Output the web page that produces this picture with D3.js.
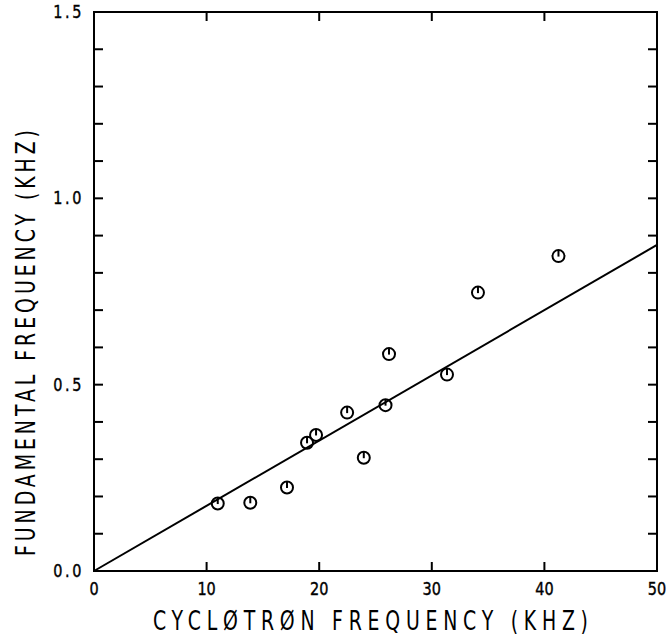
<!DOCTYPE html>
<html><head><meta charset="utf-8">
<script src="https://cdn.jsdelivr.net/npm/d3@7"></script>
<style>body{margin:0;background:#fff}</style>
</head><body>
<svg id="c" width="669" height="639"></svg>
<script>
const cyclotron = [10.99, 13.88, 17.14, 18.92, 19.72, 22.48, 23.96, 25.89, 26.2, 31.35, 34.1, 41.25];
const fundamental = [0.181, 0.183, 0.224, 0.344, 0.365, 0.425, 0.304, 0.445, 0.582, 0.527, 0.747, 0.845];
const fitLine = [[0, 0], [50, 0.875]];
const xTicks = [0, 10, 20, 30, 40, 50];
const yLabels = [0, 0.5, 1.0, 1.5];
const yMinor = [0.1,0.2,0.3,0.4,0.5,0.6,0.7,0.8,0.9,1.0,1.1,1.2,1.3,1.4];
const xTitle = "CYCLØTRØN  FREQUENCY (KHZ)";
const yTitle = "FUNDAMENTAL  FREQUENCY (KHZ)";

const svg = d3.select("#c");
const L = 94, R = 657, T = 12, B = 571;
const x = d3.scaleLinear().domain([0, 50]).range([L, R]);
const y = d3.scaleLinear().domain([0, 1.5]).range([B, T]);
const font = "DejaVu Sans, sans-serif";
const tl = 9;

// frame
svg.append("rect").attr("x", L).attr("y", T).attr("width", R - L).attr("height", B - T)
  .attr("fill", "none").attr("stroke", "#000").attr("stroke-width", 2);

// ticks inward
const g = svg.append("g").attr("stroke", "#000").attr("stroke-width", 2);
yMinor.forEach(v => {
  g.append("line").attr("x1", L).attr("x2", L + tl).attr("y1", y(v)).attr("y2", y(v));
  g.append("line").attr("x1", R).attr("x2", R - tl).attr("y1", y(v)).attr("y2", y(v));
});
xTicks.slice(1, -1).forEach(v => {
  g.append("line").attr("x1", x(v)).attr("x2", x(v)).attr("y1", B).attr("y2", B - tl);
  g.append("line").attr("x1", x(v)).attr("x2", x(v)).attr("y1", T).attr("y2", T + tl);
});

// tick labels
svg.append("g").selectAll("text").data(xTicks).join("text")
  .attr("transform", d => `translate(${x(d)},${B + 24}) scale(0.85,1)`)
  .attr("text-anchor", "middle")
  .attr("font-family", font).attr("font-size", 17)
  .attr("stroke", "#000").attr("stroke-width", 0.4)
  .text(d => d);
svg.append("g").selectAll("text").data(yLabels).join("text")
  .attr("transform", d => `translate(${L - 10},${y(d) + 6}) scale(0.85,1)`)
  .attr("text-anchor", "end")
  .attr("font-family", font).attr("font-size", 17)
  .attr("stroke", "#000").attr("stroke-width", 0.4)
  .attr("letter-spacing", 3)
  .text(d => d3.format(".1f")(d));

// titles (tall narrow plotter-style glyphs)
const sx = 0.7;
svg.append("text").attr("transform", `translate(153,630) scale(${sx},1)`)
  .attr("font-family", font).attr("font-size", 27)
  .attr("textLength", 435 / sx).attr("lengthAdjust", "spacing")
  .text(xTitle);
svg.append("text").attr("transform", `translate(35,556) rotate(-90) scale(${sx},1)`)
  .attr("font-family", font).attr("font-size", 27)
  .attr("textLength", 426 / sx).attr("lengthAdjust", "spacing")
  .text(yTitle);

// fit line
svg.append("path").datum(fitLine)
  .attr("d", d3.line().x(d => x(d[0])).y(d => y(d[1])))
  .attr("fill", "none").attr("stroke", "#000").attr("stroke-width", 2);

// points
const pts = cyclotron.map((c, i) => [c, fundamental[i]]);
const pg = svg.append("g").attr("fill", "none").attr("stroke", "#000").attr("stroke-width", 2);
pg.selectAll("circle").data(pts).join("circle")
  .attr("cx", d => x(d[0])).attr("cy", d => y(d[1])).attr("r", 6);
pg.selectAll("line").data(pts).join("line")
  .attr("x1", d => x(d[0])).attr("x2", d => x(d[0]))
  .attr("y1", d => y(d[1]) - 6).attr("y2", d => y(d[1]) + 0.5);
</script>
</body></html>
